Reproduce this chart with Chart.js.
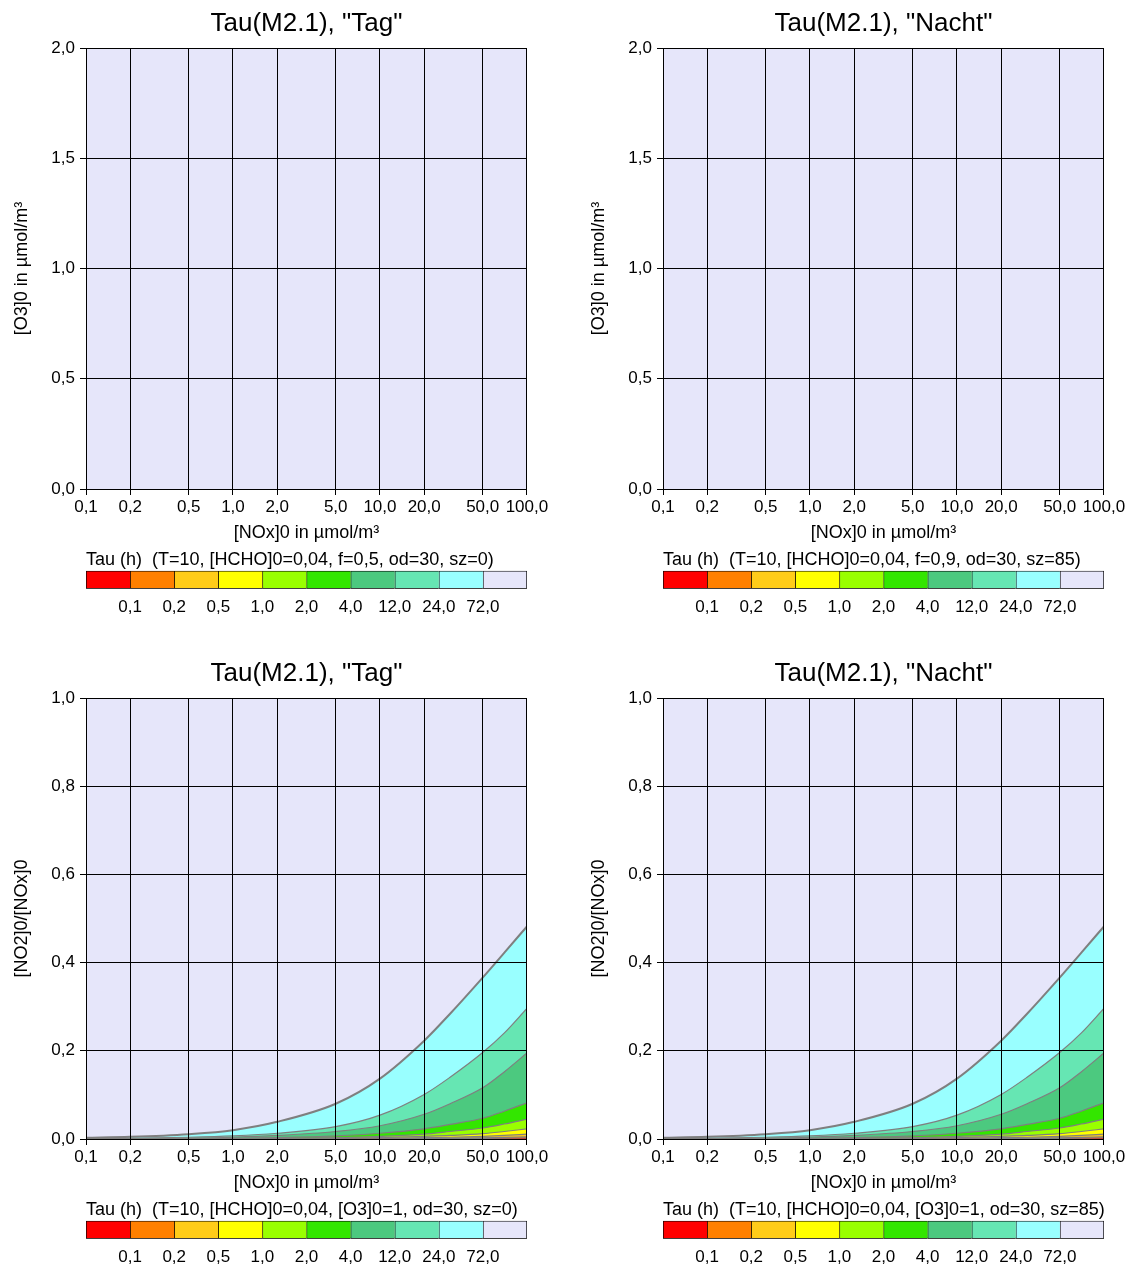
<!DOCTYPE html>
<html><head><meta charset="utf-8">
<script src="https://cdn.jsdelivr.net/npm/chart.js@4/dist/chart.umd.min.js"></script>
<style>
html,body{margin:0;padding:0;background:#fff;width:1127px;height:1265px;overflow:hidden;position:relative}
canvas{position:absolute}
</style></head><body>
<canvas id="m0" width="550" height="544" style="left:0;top:0"></canvas>
<canvas id="m1" width="550" height="544" style="left:577px;top:0"></canvas>
<canvas id="m2" width="550" height="544" style="left:0;top:650px"></canvas>
<canvas id="m3" width="550" height="544" style="left:577px;top:650px"></canvas>
<canvas id="c0" width="470" height="79" style="left:86px;top:548px"></canvas>
<canvas id="c1" width="470" height="79" style="left:663px;top:548px"></canvas>
<canvas id="c2" width="470" height="79" style="left:86px;top:1198px"></canvas>
<canvas id="c3" width="470" height="79" style="left:663px;top:1198px"></canvas>
<script>
// ---- data ----
const xTicks = [0.1, 0.2, 0.5, 1, 2, 5, 10, 20, 50, 100];
const levels = [0.1, 0.2, 0.5, 1, 2, 4, 12, 24, 72];
const bandColors = ['#FF0000','#FF8000','#FFCC19','#FFFF00','#99FF00','#33E600','#4CC97F','#66E6B3','#99FFFF','#E6E6FA'];
const o3Ticks = [0, 0.5, 1.0, 1.5, 2.0];
const ratioTicks = [0, 0.2, 0.4, 0.6, 0.8, 1.0];

// NO2/NOx contour positions vs NOx (bottom panels)
const nox = [0.1, 0.2, 0.5, 1, 2, 5, 10, 20, 30, 50, 70, 100];
const tau72 = [0.003, 0.005, 0.011, 0.020, 0.039, 0.080, 0.137, 0.223, 0.284, 0.366, 0.422, 0.482];
const tau24 = [0.001, 0.002, 0.004, 0.007, 0.013, 0.028, 0.054, 0.101, 0.140, 0.196, 0.240, 0.296];
const tau12 = [0.0006, 0.001, 0.002, 0.004, 0.008, 0.017, 0.030, 0.056, 0.080, 0.116, 0.152, 0.195];
const tau4 = [0.0002, 0.0004, 0.0008, 0.0015, 0.003, 0.007, 0.013, 0.023, 0.033, 0.047, 0.063, 0.082];
const tau2 = [0.0001, 0.0002, 0.0004, 0.0007, 0.0014, 0.003, 0.006, 0.011, 0.017, 0.025, 0.034, 0.045];
const tau1 = [0.00005, 0.0001, 0.0002, 0.0004, 0.0007, 0.0015, 0.003, 0.006, 0.008, 0.012, 0.017, 0.023];
const tau05 = [0.00003, 0.00005, 0.0001, 0.0002, 0.0004, 0.0008, 0.0015, 0.003, 0.004, 0.006, 0.008, 0.011];
const tau02 = [0.00001, 0.00002, 0.00004, 0.0001, 0.0002, 0.0004, 0.0007, 0.0013, 0.0018, 0.0027, 0.0037, 0.005];
const tau01 = [0.000005, 0.00001, 0.00002, 0.00005, 0.0001, 0.0002, 0.0004, 0.0007, 0.0009, 0.0014, 0.0019, 0.0025];
const contourLines = [tau01, tau02, tau05, tau1, tau2, tau4, tau12, tau24, tau72];

const titleTag = 'Tau(M2.1), "Tag"';
const titleNacht = 'Tau(M2.1), "Nacht"';
const xTitle = '[NOx]0 in µmol/m³';
const yTitleO3 = '[O3]0 in µmol/m³';
const yTitleRatio = '[NO2]0/[NOx]0';
const cbTitles = [
  'Tau (h)  (T=10, [HCHO]0=0,04, f=0,5, od=30, sz=0)',
  'Tau (h)  (T=10, [HCHO]0=0,04, f=0,9, od=30, sz=85)',
  'Tau (h)  (T=10, [HCHO]0=0,04, [O3]0=1, od=30, sz=0)',
  'Tau (h)  (T=10, [HCHO]0=0,04, [O3]0=1, od=30, sz=85)'
];

// ---- rendering ----
Chart.defaults.font.family = '"Liberation Sans", Arial, sans-serif';
Chart.defaults.color = '#000';
const fmt = v => Number(v).toFixed(1).replace('.', ',');

const bgPlugin = {
  id: 'bg',
  beforeDraw(chart, args, opts) {
    const a = chart.chartArea, ctx = chart.ctx;
    ctx.save();
    ctx.fillStyle = opts.color || '#fff';
    ctx.fillRect(a.left, a.top, a.right - a.left, a.bottom - a.top);
    ctx.restore();
  }
};

function contourDatasets() {
  return contourLines.map((arr, i) => ({
    data: nox.map((x, j) => ({x: x, y: arr[j]})),
    borderColor: '#7F7F7F',
    borderWidth: i === contourLines.length - 1 ? 2 : 1.2,
    backgroundColor: bandColors[i],
    fill: 'origin',
    pointRadius: 0,
    cubicInterpolationMode: 'monotone'
  }));
}

function mainChart(id, title, yTitle, yTicks, datasets) {
  return new Chart(document.getElementById(id), {
    type: 'line',
    data: {datasets: datasets},
    options: {
      responsive: false, animation: false,
      layout: {padding: {left: 0, right: 23, top: 0, bottom: 0.2}},
      plugins: {
        legend: {display: false}, tooltip: {enabled: false},
        title: {display: true, fullSize: false, text: title, font: {size: 26, weight: 'normal'}, color: '#000', padding: {top: 8.4, bottom: 8.4}},
        bg: {color: bandColors[bandColors.length - 1]}
      },
      scales: {
        x: {
          type: 'logarithmic', min: xTicks[0], max: xTicks[xTicks.length - 1],
          afterBuildTicks(s) { s.ticks = xTicks.map(v => ({value: v})); },
          ticks: {callback: v => fmt(v), padding: 1.8, maxRotation: 0, autoSkip: false, font: {size: 17}, color: '#000'},
          grid: {color: '#000', lineWidth: 1, tickLength: 6, z: 1},
          border: {color: '#000', z: 1},
          title: {display: true, text: xTitle, font: {size: 18}, color: '#000', padding: {top: 3.2, bottom: 0}}
        },
        y: {
          type: 'linear', min: yTicks[0], max: yTicks[yTicks.length - 1],
          afterBuildTicks(s) { s.ticks = yTicks.map(v => ({value: v})); },
          afterFit(s) { s.width = 86; },
          ticks: {callback: v => fmt(v), padding: 5, font: {size: 17}, color: '#000'},
          grid: {color: '#000', lineWidth: 1, tickLength: 6, z: 1},
          border: {color: '#000', z: 1},
          title: {display: true, text: yTitle, font: {size: 18}, color: '#000', padding: {top: 11.2, bottom: 0}}
        }
      }
    },
    plugins: [bgPlugin]
  });
}

function colorbar(id, title) {
  const n = bandColors.length;
  return new Chart(document.getElementById(id), {
    type: 'bar',
    data: {
      labels: [''],
      datasets: bandColors.map((c, i) => ({
        data: [1], backgroundColor: c, borderColor: '#000',
        borderWidth: {left: 1, top: 1, bottom: 1, right: i === n - 1 ? 1 : 0},
        borderSkipped: false, barPercentage: 1, categoryPercentage: 1
      }))
    },
    options: {
      indexAxis: 'y', responsive: false, animation: false,
      layout: {padding: {left: 0, right: 0, top: 0, bottom: 0.7}},
      plugins: {
        legend: {display: false}, tooltip: {enabled: false},
        title: {display: true, text: title, align: 'start', font: {size: 18, weight: 'normal'}, color: '#000', padding: {top: 1.2, bottom: 0}}
      },
      scales: {
        x: {
          stacked: true, min: 0, max: n,
          afterBuildTicks(s) { s.ticks = levels.map((v, i) => ({value: i + 1})); },
          afterFit(s) { s.paddingRight = 29; s.paddingLeft = 0; },
          ticks: {callback: (v, i) => fmt(levels[i]), padding: 8.6, autoSkip: false, maxRotation: 0, font: {size: 17}, color: '#000'},
          grid: {display: false, drawTicks: false},
          border: {display: false}
        },
        y: {stacked: true, display: false}
      }
    }
  });
}

mainChart('m0', titleTag, yTitleO3, o3Ticks, []);
mainChart('m1', titleNacht, yTitleO3, o3Ticks, []);
mainChart('m2', titleTag, yTitleRatio, ratioTicks, contourDatasets());
mainChart('m3', titleNacht, yTitleRatio, ratioTicks, contourDatasets());
cbTitles.forEach((t, i) => colorbar('c' + i, t));
</script>
</body></html>
